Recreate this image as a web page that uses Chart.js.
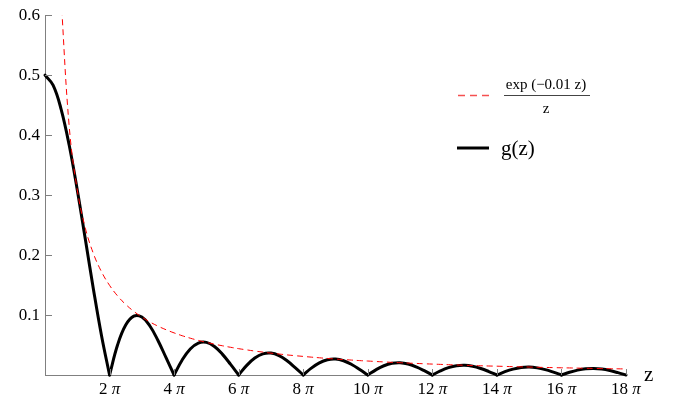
<!DOCTYPE html>
<html>
<head>
<meta charset="utf-8">
<script src="https://cdn.jsdelivr.net/npm/chart.js@4"></script>
<style>
  html, body { margin: 0; padding: 0; background: #fff; }
  #wrap { width: 673px; height: 400px; }
</style>
</head>
<body>
<div id="wrap"><canvas id="chart" width="673" height="400"></canvas></div>
<script>
// ── Data ─────────────────────────────────────────────────────────────────────
// z positions, in units of pi (one point every pi/4)
const zPi = [
    0, 0.25, 0.5, 0.75, 1, 1.25, 1.5, 1.75,
    2, 2.25, 2.5, 2.75, 3, 3.25, 3.5, 3.75,
    4, 4.25, 4.5, 4.75, 5, 5.25, 5.5, 5.75,
    6, 6.25, 6.5, 6.75, 7, 7.25, 7.5, 7.75,
    8, 8.25, 8.5, 8.75, 9, 9.25, 9.5, 9.75,
    10, 10.25, 10.5, 10.75, 11, 11.25, 11.5, 11.75,
    12, 12.25, 12.5, 12.75, 13, 13.25, 13.5, 13.75,
    14, 14.25, 14.5, 14.75, 15, 15.25, 15.5, 15.75,
    16, 16.25, 16.5, 16.75, 17, 17.25, 17.5, 17.75,
    18
];

// g(z), solid black curve
const gVals = [
    0.5, 0.4834, 0.4431, 0.3830, 0.3085, 0.2262, 0.1431, 0.0659,
    0, 0.0504, 0.0832, 0.0981, 0.0966, 0.0817, 0.0576, 0.0289,
    0, 0.0251, 0.0434, 0.0533, 0.0544, 0.0475, 0.0344, 0.0177,
    0, 0.0160, 0.0282, 0.0352, 0.0365, 0.0323, 0.0237, 0.0123,
    0, 0.0114, 0.0203, 0.0255, 0.0267, 0.0238, 0.0176, 0.0092,
    0, 0.0086, 0.0154, 0.0195, 0.0205, 0.0184, 0.0136, 0.0072,
    0, 0.0068, 0.0122, 0.0155, 0.0163, 0.0146, 0.0109, 0.0058,
    0, 0.0055, 0.0098, 0.0125, 0.0133, 0.0119, 0.0089, 0.0047,
    0, 0.0045, 0.0081, 0.0104, 0.0110, 0.0099, 0.0074, 0.0039,
    0
];

// exp(-0.01 z)/z, red dashed envelope (off the top for small z)
const envVals = [
    null, null, 0.6267, 0.4145, 0.3085, 0.2448, 0.2024, 0.1722,
    0.1495, 0.1318, 0.1177, 0.1062, 0.0966, 0.0884, 0.0815, 0.0755,
    0.0702, 0.0655, 0.0614, 0.0577, 0.0544, 0.0514, 0.0487, 0.0462,
    0.0439, 0.0419, 0.0399, 0.0382, 0.0365, 0.0350, 0.0335, 0.0322,
    0.0310, 0.0298, 0.0287, 0.0276, 0.0267, 0.0257, 0.0249, 0.0240,
    0.0233, 0.0225, 0.0218, 0.0211, 0.0205, 0.0199, 0.0193, 0.0187,
    0.0182, 0.0177, 0.0172, 0.0167, 0.0163, 0.0158, 0.0154, 0.0150,
    0.0147, 0.0143, 0.0139, 0.0136, 0.0133, 0.0129, 0.0126, 0.0123,
    0.0120, 0.0118, 0.0115, 0.0112, 0.0110, 0.0107, 0.0105, 0.0103,
    0.0101
];

const xTickPi     = [2, 4, 6, 8, 10, 12, 14, 16, 18];
const xTickLabels = ['2 π', '4 π', '6 π', '8 π', '10 π', '12 π', '14 π', '16 π', '18 π'];
const yTicks      = [0.1, 0.2, 0.3, 0.4, 0.5, 0.6];
const yTickLabels = ['0.1', '0.2', '0.3', '0.4', '0.5', '0.6'];

// ── Styles ───────────────────────────────────────────────────────────────────
const SERIF    = '"Liberation Serif", "DejaVu Serif", serif';
const AXIS_CLR = '#808080';
const RED      = '#ff0000';

const envData = zPi.map((p, i) => ({ x: p * Math.PI, y: envVals[i] })).filter(d => d.y !== null);

// g(z) is split into arcs at its zeros so the cusps stay sharp
const gArcs = [];
let arc = [];
zPi.forEach((p, i) => {
    const pt = { x: p * Math.PI, y: gVals[i] };
    arc.push(pt);
    if (gVals[i] === 0 && arc.length > 1) {
        gArcs.push(arc);
        arc = [pt];
    }
});
if (arc.length > 1) gArcs.push(arc);

const arcSets = gArcs.map((pts, i) => ({
    label: i === 0 ? 'g(z)' : '',
    data: pts,
    borderColor: '#000',
    borderWidth: 3,
    borderCapStyle: 'round',
    pointRadius: 0,
    tension: 0.4,
    fill: false,
    clip: false,
}));

// inward tick marks, x labels with italic pi, the "z" axis label and the legend
const decor = {
    id: 'decor',
    afterDraw(chart) {
        const { ctx, chartArea: a, scales: { x, y } } = chart;
        ctx.save();
        ctx.strokeStyle = AXIS_CLR;
        ctx.lineWidth = 1;
        ctx.beginPath();
        xTickPi.forEach(p => {
            const px = Math.round(x.getPixelForValue(p * Math.PI)) + 0.5;
            ctx.moveTo(px, a.bottom);
            ctx.lineTo(px, a.bottom - 6);
        });
        yTicks.forEach(v => {
            const py = Math.round(y.getPixelForValue(v)) + 0.5;
            ctx.moveTo(a.left, py);
            ctx.lineTo(a.left + 7, py);
        });
        ctx.stroke();

        // x tick labels: number upright, pi italic
        ctx.fillStyle = '#000';
        ctx.textBaseline = 'alphabetic';
        ctx.textAlign = 'left';
        const upright = '17px ' + SERIF;
        const italic  = 'italic 17px ' + SERIF;
        xTickLabels.forEach((lab, i) => {
            const [num, sym] = lab.split(' ');
            ctx.font = upright;
            const wNum = ctx.measureText(num + ' ').width;
            ctx.font = italic;
            const wSym = ctx.measureText(sym).width;
            const cx = x.getPixelForValue(xTickPi[i] * Math.PI);
            const left = cx - (wNum + wSym) / 2;
            ctx.font = upright;
            ctx.fillText(num, left, a.bottom + 19);
            ctx.font = italic;
            ctx.fillText(sym, left + wNum, a.bottom + 19);
        });

        // axis label
        ctx.font = '21px ' + SERIF;
        ctx.fillText('z', a.right + 18, a.bottom + 6);

        // legend: red dashed entry with fraction
        ctx.strokeStyle = 'rgb(245,80,80)';
        ctx.lineWidth = 1.6;
        ctx.setLineDash([7, 5]);
        ctx.beginPath();
        ctx.moveTo(458, 95.5);
        ctx.lineTo(489, 95.5);
        ctx.stroke();
        ctx.setLineDash([]);

        ctx.font = '15px ' + SERIF;
        ctx.textAlign = 'center';
        ctx.textBaseline = 'middle';
        ctx.fillText('exp (−0.01 z)', 546, 85);
        ctx.fillText('z', 546, 109);
        ctx.strokeStyle = '#444';
        ctx.lineWidth = 1;
        ctx.beginPath();
        ctx.moveTo(504, 95.5);
        ctx.lineTo(590, 95.5);
        ctx.stroke();

        // legend: black solid entry
        ctx.strokeStyle = '#000';
        ctx.lineWidth = 3;
        ctx.beginPath();
        ctx.moveTo(457, 148);
        ctx.lineTo(489, 148);
        ctx.stroke();
        ctx.font = '21px ' + SERIF;
        ctx.textAlign = 'left';
        ctx.fillText('g(z)', 501, 149);
        ctx.restore();
    }
};

new Chart(document.getElementById('chart').getContext('2d'), {
    type: 'line',
    data: {
        datasets: [{
            label: 'exp(-0.01 z)/z',
            data: envData,
            borderColor: RED,
            borderWidth: 1,
            borderDash: [6, 4],
            pointRadius: 0,
            tension: 0.4,
            fill: false,
        }, ...arcSets]
    },
    options: {
        responsive: false,
        animation: false,
        events: [],
        layout: { padding: { top: 15, right: 47, left: 0, bottom: 0 } },
        plugins: { legend: { display: false }, tooltip: { enabled: false } },
        scales: {
            x: {
                type: 'linear',
                min: 0,
                max: 18 * Math.PI,
                afterBuildTicks: s => { s.ticks = xTickPi.map(p => ({ value: p * Math.PI })); },
                afterFit: s => { s.height = 25; },
                ticks: { display: false },
                grid: { display: false, drawTicks: false },
                border: { display: true, color: AXIS_CLR, width: 1 },
            },
            y: {
                min: 0,
                max: 0.6,
                afterBuildTicks: s => { s.ticks = yTicks.map(v => ({ value: v })); },
                afterFit: s => { s.width = 45; },
                ticks: {
                    padding: 5,
                    color: '#000',
                    font: { family: SERIF, size: 17 },
                    callback: (v, i) => yTickLabels[i],
                },
                grid: { display: false, drawTicks: false },
                border: { display: true, color: AXIS_CLR, width: 1 },
            }
        }
    },
    plugins: [decor]
});
</script>
</body>
</html>
